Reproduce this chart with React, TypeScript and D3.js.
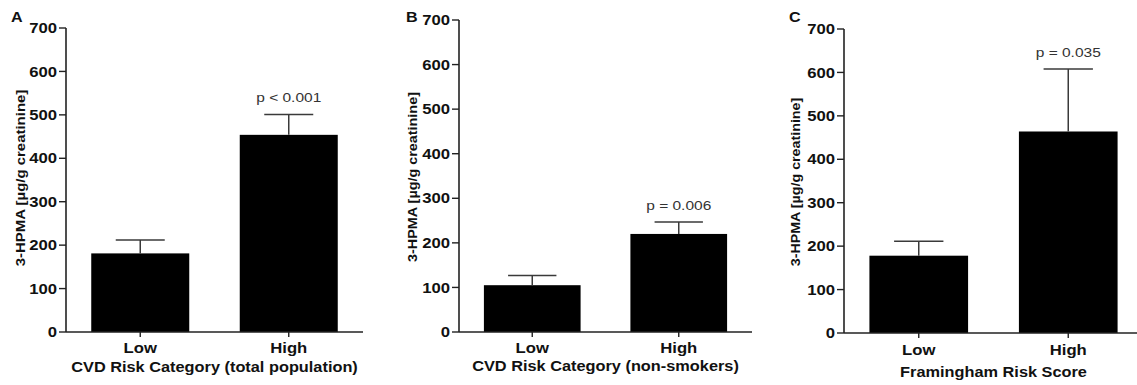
import React from "react";
import * as d3 from "d3";

// ---- data ----
const categories = ["Low", "High"];
const yTicks = [0, 100, 200, 300, 400, 500, 600, 700];
const panelLetters = ["A", "B", "C"];
const xTitles = [
  "CVD Risk Category (total population)",
  "CVD Risk Category (non-smokers)",
  "Framingham Risk Score",
];
const yTitle = "3-HPMA [\u00b5g/g creatinine]";
const meansA = [181, 454];
const errorsA = [31, 47];
const meansB = [105, 220];
const errorsB = [22, 27];
const meansC = [178, 464];
const errorsC = [33, 144];
const pLabels = ["p < 0.001", "p = 0.006", "p = 0.035"];

const means = [meansA, meansB, meansC];
const errors = [errorsA, errorsB, errorsC];

// ---- layout (positions only) ----
const layout = [
  { ax: 66, x1: 363, y0: 332, y1: 28, titleX: 25, titleY0: 178, titleSize: 13, letterX: 11, catY: 353, titleY: 372 },
  { ax: 459, x1: 752, y0: 332, y1: 20, titleX: 417, titleY0: 177, titleSize: 12.5, letterX: 406, catY: 353, titleY: 371 },
  { ax: 844, x1: 1143, y0: 333, y1: 29, titleX: 800, titleY0: 182, titleSize: 12.4, letterX: 789, catY: 355, titleY: 377 },
];

const SX = 1.15;
const FONT = "'Liberation Sans', Arial, sans-serif";

type TxtProps = {
  x: number;
  y: number;
  anchor?: string;
  size: number;
  bold?: boolean;
  rotate?: number;
  fill?: string;
  baseline?: string;
  children: React.ReactNode;
};

const Txt = ({ x, y, anchor = "middle", size, bold = true, rotate, fill = "#111", baseline, children }: TxtProps) => (
  <text
    transform={`translate(${x},${y})${rotate ? ` rotate(${rotate})` : ""} scale(${SX},1)`}
    textAnchor={anchor}
    fontSize={size}
    fontWeight={bold ? "bold" : "normal"}
    fontFamily={FONT}
    fill={fill}
    dominantBaseline={baseline}
  >
    {children}
  </text>
);

const Panel = ({ i }: { i: number }) => {
  const L = layout[i];
  const y = d3.scaleLinear().domain([0, 700]).range([L.y0, L.y1]);
  const x = d3.scaleBand<string>().domain(categories).range([L.ax, L.x1]).paddingInner(0.34).paddingOuter(0.17);
  const bw = x.bandwidth();
  const m = means[i];
  const e = errors[i];
  const hiIdx = 1;
  const errTopHigh = y(m[hiIdx] + e[hiIdx]);
  return (
    <g>
      {/* bars */}
      {categories.map((c, k) => (
        <rect key={c} x={x(c)!} y={y(m[k])} width={bw} height={y(0) - y(m[k])} fill="#000" />
      ))}
      {/* error bars */}
      {categories.map((c, k) => {
        const cx = x(c)! + bw / 2;
        const top = y(m[k] + e[k]);
        return (
          <g key={c} stroke="#3a3a3a" strokeWidth={1.5}>
            <line x1={cx} x2={cx} y1={y(m[k])} y2={top} />
            <line x1={cx - bw / 4} x2={cx + bw / 4} y1={top} y2={top} />
          </g>
        );
      })}
      {/* y axis */}
      <line x1={L.ax} x2={L.ax} y1={y(0)} y2={y(700)} stroke="#222" strokeWidth={1.6} />
      {yTicks.map((t) => (
        <g key={t}>
          <line x1={L.ax - 7} x2={L.ax} y1={y(t)} y2={y(t)} stroke="#222" strokeWidth={1.4} />
          <Txt x={L.ax - 9} y={y(t)} anchor="end" size={14.5} baseline="central">
            {t}
          </Txt>
        </g>
      ))}
      {/* x axis */}
      <line x1={L.ax} x2={L.x1} y1={y(0)} y2={y(0)} stroke="#222" strokeWidth={1.6} />
      {categories.map((c) => (
        <g key={c}>
          <line x1={x(c)! + bw / 2} x2={x(c)! + bw / 2} y1={y(0)} y2={y(0) + 5} stroke="#222" strokeWidth={1.4} />
          <Txt x={x(c)! + bw / 2} y={L.catY} size={14.5}>
            {c}
          </Txt>
        </g>
      ))}
      <Txt x={(L.ax + L.x1) / 2} y={L.titleY} size={14.2}>
        {xTitles[i]}
      </Txt>
      {/* y title */}
      <Txt x={L.titleX} y={L.titleY0} rotate={-90} size={L.titleSize}>
        {yTitle}
      </Txt>
      {/* panel letter */}
      <Txt x={L.letterX} y={22} anchor="start" size={14}>
        {panelLetters[i]}
      </Txt>
      {/* p value */}
      <Txt x={x(categories[hiIdx])! + bw / 2} y={errTopHigh - 12} size={13.5} bold={false} fill="#333">
        {pLabels[i]}
      </Txt>
    </g>
  );
};

export default function App() {
  return (
    <svg
      width={1137}
      height={385}
      viewBox="0 0 1137 385"
      style={{ position: "absolute", left: 0, top: 0, background: "#fff" }}
    >
      <rect x={0} y={0} width={1137} height={385} fill="#fff" />
      {[0, 1, 2].map((i) => (
        <Panel key={i} i={i} />
      ))}
    </svg>
  );
}
